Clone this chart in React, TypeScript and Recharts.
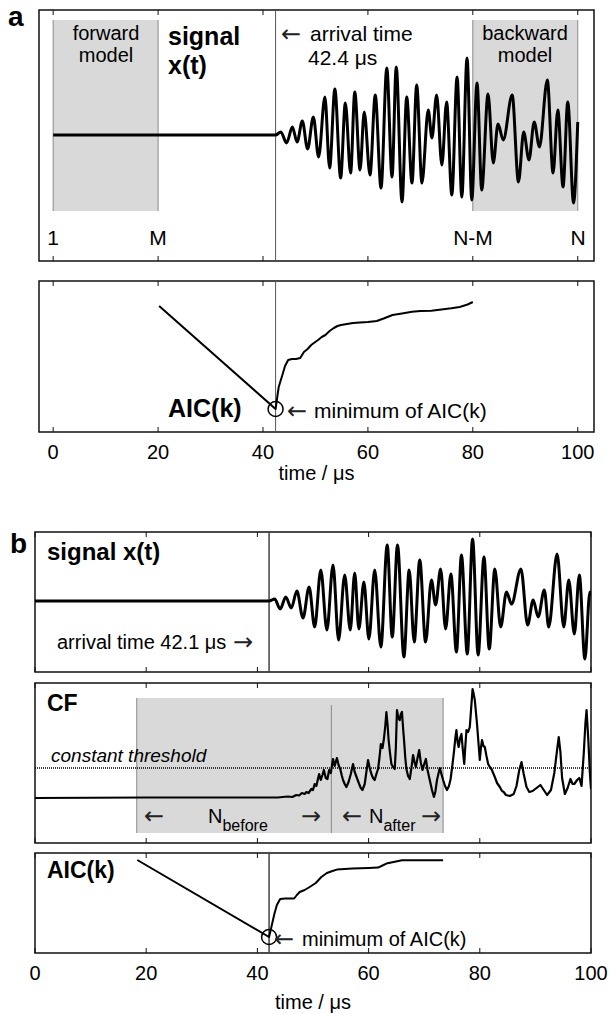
import type { ReactNode } from "react";
import { ComposedChart, Line, ReferenceArea, ReferenceDot, ReferenceLine, XAxis, YAxis } from "recharts";

// Arial look-alike with the same metrics; arrows come from DejaVu (longer glyphs)
const FONT = '"Liberation Sans", Arial, sans-serif';
const ARROW_FONT = '"DejaVu Sans", sans-serif';
const FRAME_COLOR = "#111";
const BOX_FILL = "#d9d9d9";
const BOX_EDGE = "#8a8a8a";

const TICKS = [0, 20, 40, 60, 80, 100];
const X_DOMAIN_A: [number, number] = [-2.7, 103.1];
const X_DOMAIN_B: [number, number] = [0, 100];

const ARRIVAL_A = 42.4;
const ARRIVAL_B = 42.1;

type Pt = [number, number];

// panel a, signal x(t): extrema (t in µs, amplitude)
const SIGNAL_A: Pt[] = [
  [0, 0], [42.4, 0], [43.4, 3], [44.5, -8], [45.6, 8], [46.5, -7], [47.5, 14], [48.5, -14],
  [49.6, 18], [50.6, -22], [51.8, 38], [52.7, -33], [53.7, 46], [54.8, -43], [55.7, 32],
  [56.7, -38], [57.5, 43], [58.5, -35], [59.3, 23], [60.4, -40], [61.4, 40], [62.5, -53],
  [63.6, 67], [64.6, -42], [65.4, 68], [66.5, -67], [67.4, 38], [68.4, -48], [69.3, 50],
  [70.3, -48], [71.5, 25], [72.2, -3], [73.1, 40], [74.1, -30], [75.0, 33], [76.0, -60],
  [77.0, 58], [77.9, -62], [78.9, 77], [79.8, -65], [80.8, 52], [81.7, -55], [82.9, 41],
  [83.9, -28], [84.8, 11], [85.8, -5], [87.5, 40], [88.7, -47], [89.7, 3], [90.7, -25],
  [91.7, 13], [92.7, -12], [94.2, 55], [95.3, -38], [96.2, 25], [97.2, -52], [98.1, 33],
  [99.2, -68], [100, 13],
];

// panel a, AIC(k) between M and N-M
const AIC_A: Pt[] = [
  [20.2, 126], [42.4, 23], [42.8, 38], [43.0, 45], [43.4, 52], [43.7, 57], [44.2, 66],
  [44.8, 72], [45.5, 73], [46.3, 73], [47.1, 74], [47.8, 80], [48.5, 83], [49.2, 87],
  [49.7, 89], [50.5, 92], [51.2, 95], [51.9, 97], [52.7, 101], [53.5, 104], [54.2, 106],
  [54.9, 107], [56, 108], [57.2, 109], [58.5, 109.5], [60, 110], [61.7, 111], [63, 113.5],
  [64.7, 117], [66.5, 118.5], [68.4, 120.3], [70, 121], [72.1, 121.3], [74, 122.5],
  [75.9, 123.7], [77.5, 125], [79, 127.5], [80, 130],
];
const AIC_MIN_A: Pt = [42.4, 23];

// panel b, signal x(t)
const SIGNAL_B: Pt[] = [
  [0, 0], [42.1, 0], [43.1, 2], [44.1, -8], [45.1, 4], [46.1, -7], [47.1, 10], [48.2, -17],
  [49.3, 14], [50.3, -26], [51.4, 31], [52.5, -29], [53.6, 36], [54.6, -39], [55.7, 26],
  [56.7, -29], [57.5, 28], [58.25, -28], [59.15, 19], [60.05, -38], [61.1, 31], [62.2, -46],
  [63.35, 56], [64.25, -36], [65.2, 56], [66.35, -56], [67.3, 31], [68.2, -41], [69.2, 41],
  [70.25, -41], [71.3, 21], [72.05, -4], [72.95, 32], [73.85, -28], [74.8, 27], [75.8, -51],
  [76.7, 46], [77.75, -53], [78.7, 62], [79.7, -54], [80.75, 44], [81.7, -48], [82.7, 32],
  [83.75, -26], [84.8, 9], [85.7, -3], [87.4, 32], [88.6, -24], [89.6, 1], [90.5, -16],
  [91.6, 11], [92.4, -26], [93.9, 47], [95.1, -26], [96.0, 21], [97.0, -33], [97.9, 26],
  [98.9, -58], [99.8, 9], [100, 5],
];

// panel b, characteristic function CF
const CF_B: Pt[] = [
  [0, 0], [20, 0.5], [43.7, 0.5], [44.5, 1], [45.5, 1.5], [46.3, 1], [47.0, 3], [47.5, 2.5],
  [48.0, 5], [48.5, 4], [48.8, 6], [49.2, 5], [49.7, 9], [50.0, 8], [50.3, 14], [50.6, 12],
  [51.1, 24], [51.4, 18], [51.7, 23], [51.95, 28], [52.3, 20], [52.6, 19], [52.9, 28],
  [53.2, 25], [53.6, 39], [53.9, 32], [54.3, 40], [54.6, 33], [54.95, 28], [55.2, 22],
  [55.4, 18], [55.7, 14], [56.0, 11], [56.4, 16], [56.8, 24], [57.2, 34], [57.5, 26],
  [57.9, 20], [58.3, 14], [58.6, 10], [58.9, 8], [59.3, 14], [59.6, 26], [59.9, 38],
  [60.2, 30], [60.5, 24], [60.8, 20], [61.1, 18], [61.4, 24], [61.7, 29], [61.95, 40],
  [62.2, 54], [62.5, 50], [62.75, 59], [63.0, 72], [63.2, 86], [63.4, 74], [63.6, 58],
  [63.85, 45], [64.1, 34], [64.4, 31], [64.7, 29], [64.9, 50], [65.1, 88], [65.35, 80],
  [65.6, 78], [65.8, 84], [66.0, 86], [66.2, 70], [66.4, 56], [66.6, 40], [66.8, 29],
  [67.1, 22], [67.4, 19], [67.7, 30], [68.0, 43], [68.25, 36], [68.5, 31], [68.8, 40],
  [69.1, 48], [69.4, 35], [69.7, 28], [70.0, 34], [70.3, 39], [70.6, 28], [71.0, 18],
  [71.4, 8], [71.75, 1], [72.0, 6], [72.3, 18], [72.55, 24], [72.8, 30], [73.1, 24],
  [73.4, 18], [73.75, 12], [74.1, 8], [74.45, 12], [74.75, 19], [75.05, 32], [75.35, 46],
  [75.6, 60], [75.8, 68], [76.0, 56], [76.2, 51], [76.45, 60], [76.7, 64], [76.95, 48],
  [77.2, 34], [77.4, 52], [77.6, 68], [77.9, 66], [78.2, 71], [78.45, 90], [78.7, 109],
  [78.9, 104], [79.1, 98], [79.3, 86], [79.5, 74], [79.75, 56], [80.0, 38], [80.2, 50],
  [80.4, 58], [80.65, 52], [80.9, 51], [81.2, 42], [81.5, 34], [81.8, 31], [82.1, 29],
  [82.4, 25], [82.7, 21], [83.1, 15], [83.6, 11], [84.0, 7], [84.3, 6], [84.7, 3],
  [85.4, 2], [86.1, 4], [86.6, 12], [87.1, 28], [87.5, 36], [87.9, 24], [88.4, 11],
  [88.9, 6], [89.5, 7], [90.2, 10], [90.9, 13], [91.5, 8], [92.1, 3], [92.8, 8], [93.4, 25],
  [93.9, 48], [94.2, 61], [94.5, 46], [94.8, 20], [95.3, 4], [95.8, 10], [96.3, 19],
  [96.7, 14], [97.0, 14], [97.5, 18], [97.9, 20], [98.3, 12], [98.7, 45], [99.0, 75],
  [99.2, 88], [99.5, 60], [99.8, 25], [100, 9],
];
const CF_THRESHOLD = 30;
const WINDOW_B = { start: 18.3, split: 53.3, end: 73.4 };

// panel b, AIC(k) inside the window
const AIC_B: Pt[] = [
  [18.4, 93], [42.1, 16], [42.6, 28], [43.05, 39], [43.5, 48], [44.1, 54], [45, 54.5],
  [46.6, 54.5], [47.1, 58], [47.6, 61], [48.5, 63], [49.4, 66], [50.5, 70], [51.5, 76],
  [52.5, 80], [53.5, 82], [54.3, 83.4], [57.1, 84.4], [60, 85], [61.7, 85.4], [62.5, 87.5],
  [63.2, 89.4], [64.5, 91], [66, 92.7], [70, 92.7], [73.4, 92.7],
];
const AIC_MIN_B: Pt = [42.1, 16];

const rows = (pts: Pt[]) => pts.map(([t, v]) => ({ t, v }));

interface PanelProps {
  top: number;
  left: number;
  right: number;
  marginTop: number;
  plotH: number;
  axisH: number;
  xDomain: [number, number];
  yDomain: [number, number];
  data: Pt[];
  curve: "monotone" | "linear";
  lineW: number;
  tickLabels?: boolean;
  labelOffset?: number;
  children?: ReactNode;
}

function Panel(p: PanelProps) {
  const [x0, x1] = p.xDomain;
  const [y0, y1] = p.yDomain;
  const textStyle = { fill: "#000", fontSize: 20, fontFamily: FONT };
  return (
    <div style={{ position: "absolute", left: 0, top: p.top }}>
      <ComposedChart
        width={615}
        height={p.marginTop + p.plotH + p.axisH}
        data={rows(p.data)}
        margin={{ top: p.marginTop, right: p.right, bottom: 0, left: p.left }}
      >
        <XAxis
          type="number"
          dataKey="t"
          domain={p.xDomain}
          ticks={TICKS}
          allowDataOverflow
          height={p.axisH}
          tickSize={0}
          tickLine={false}
          tickMargin={13}
          tick={p.tickLabels ? textStyle : false}
          axisLine={false}
          label={
            p.tickLabels
              ? { value: "time / μs", position: "insideBottom", offset: p.labelOffset ?? 10, ...textStyle }
              : undefined
          }
        />
        <YAxis type="number" domain={p.yDomain} allowDataOverflow hide />
        {p.children}
        {/* plot frame */}
        <ReferenceArea
          x1={x0}
          x2={x1}
          y1={y0}
          y2={y1}
          fill="none"
          stroke={FRAME_COLOR}
          strokeWidth={1.5}
          ifOverflow="visible"
        />
        {/* inward ticks on the bottom and top edges */}
        {TICKS.map((v) => (
          <ReferenceLine key={`tb${v}`} segment={[{ x: v, y: y0 }, { x: v, y: y0 + 5 }]} stroke={FRAME_COLOR} strokeWidth={1} />
        ))}
        {TICKS.map((v) => (
          <ReferenceLine key={`tt${v}`} segment={[{ x: v, y: y1 - 5 }, { x: v, y: y1 }]} stroke={FRAME_COLOR} strokeWidth={1} />
        ))}
        <Line
          type={p.curve}
          dataKey="v"
          stroke="#000"
          strokeWidth={p.lineW}
          strokeLinejoin="round"
          dot={false}
          isAnimationActive={false}
        />
      </ComposedChart>
    </div>
  );
}

function boxEdge(x: number, y0: number, y1: number, key: string) {
  return <ReferenceLine key={key} segment={[{ x, y: y0 }, { x, y: y1 }]} stroke={BOX_EDGE} strokeWidth={1} />;
}

export default function App() {
  const t = (size: number, weight: "bold" | "normal" = "normal") => ({
    fontFamily: FONT,
    fontSize: size,
    fontWeight: weight,
    fill: "#000",
  });
  const arrow = (x: number, y: number, dir: "←" | "→", size = 24) => (
    <text x={x} y={y} fontFamily={ARROW_FONT} fontSize={size} fill="#222">
      {dir}
    </text>
  );
  return (
    <div style={{ position: "absolute", left: 0, top: 0, width: 615, height: 1014, background: "#fff" }}>
      {/* a: signal */}
      <Panel top={0} left={39} right={21} marginTop={10} plotH={251} axisH={1} xDomain={X_DOMAIN_A} yDomain={[-126, 125]} data={SIGNAL_A} curve="monotone" lineW={3}>
        <ReferenceArea x1={0} x2={20} y1={-76} y2={115} fill={BOX_FILL} fillOpacity={1} stroke="none" />
        <ReferenceArea x1={80} x2={100} y1={-76} y2={115} fill={BOX_FILL} fillOpacity={1} stroke="none" />
        {boxEdge(0, -76, 115, "e0")}
        {boxEdge(20, -76, 115, "e20")}
        {boxEdge(80, -76, 115, "e80")}
        {boxEdge(100, -76, 115, "e100")}
        <ReferenceLine x={ARRIVAL_A} stroke="#555" strokeWidth={1} />
      </Panel>

      {/* a: AIC */}
      <Panel top={270} left={39} right={21} marginTop={11} plotH={151} axisH={58} xDomain={X_DOMAIN_A} yDomain={[0, 151]} data={AIC_A} curve="linear" lineW={2} tickLabels labelOffset={10}>
        <ReferenceLine x={ARRIVAL_A} stroke="#555" strokeWidth={1} />
        <ReferenceDot x={AIC_MIN_A[0]} y={AIC_MIN_A[1]} r={7.5} fill="none" stroke="#000" strokeWidth={1.5} />
      </Panel>

      {/* b: signal */}
      <Panel top={520} left={35} right={24} marginTop={12} plotH={140} axisH={2} xDomain={X_DOMAIN_B} yDomain={[-71, 69]} data={SIGNAL_B} curve="monotone" lineW={3}>
        <ReferenceLine x={ARRIVAL_B} stroke="#444" strokeWidth={1.5} />
      </Panel>

      {/* b: CF */}
      <Panel top={673} left={35} right={24} marginTop={10} plotH={160} axisH={2} xDomain={X_DOMAIN_B} yDomain={[-45, 115]} data={CF_B} curve="linear" lineW={2.2}>
        <ReferenceArea x1={WINDOW_B.start} x2={WINDOW_B.end} y1={-35} y2={100} fill={BOX_FILL} fillOpacity={1} stroke="none" />
        {boxEdge(WINDOW_B.start, -35, 100, "w0")}
        {boxEdge(WINDOW_B.end, -35, 100, "w2")}
        {boxEdge(WINDOW_B.split, -35, 93, "w1")}
        <ReferenceLine y={CF_THRESHOLD} stroke="#000" strokeWidth={1.5} strokeDasharray="1 1" />
      </Panel>

      {/* b: AIC */}
      <Panel top={843} left={35} right={24} marginTop={10} plotH={100} axisH={60} xDomain={X_DOMAIN_B} yDomain={[0, 100]} data={AIC_B} curve="linear" lineW={2} tickLabels labelOffset={4}>
        <ReferenceLine x={ARRIVAL_B} stroke="#444" strokeWidth={1.5} />
        <ReferenceDot x={AIC_MIN_B[0]} y={AIC_MIN_B[1]} r={7.5} fill="none" stroke="#000" strokeWidth={1.5} />
      </Panel>

      <svg width={615} height={1014} style={{ position: "absolute", left: 0, top: 0, pointerEvents: "none" }}>
        {/* panel a */}
        <text x={8} y={26} {...t(28, "bold")}>a</text>
        <text x={106} y={40} textAnchor="middle" {...t(20)}>forward</text>
        <text x={106} y={62} textAnchor="middle" {...t(20)}>model</text>
        <text x={525} y={40} textAnchor="middle" {...t(20)}>backward</text>
        <text x={525} y={62} textAnchor="middle" {...t(20)}>model</text>
        <text x={168} y={45} {...t(25, "bold")}>signal</text>
        <text x={168} y={74} {...t(25, "bold")}>x(t)</text>
        {arrow(281, 42, "←")}
        <text x={310} y={41} {...t(21)}>arrival time</text>
        <text x={308} y={65} {...t(21)}>42.4 μs</text>
        <text x={53} y={245} textAnchor="middle" {...t(21)}>1</text>
        <text x={158} y={245} textAnchor="middle" {...t(21)}>M</text>
        <text x={473} y={245} textAnchor="middle" {...t(21)}>N-M</text>
        <text x={578} y={245} textAnchor="middle" {...t(21)}>N</text>
        <text x={168} y={417} {...t(25, "bold")}>AIC(k)</text>
        {arrow(287, 419, "←")}
        <text x={314} y={418} {...t(21)}>minimum of AIC(k)</text>

        {/* panel b */}
        <text x={10} y={553} {...t(28, "bold")}>b</text>
        <text x={47} y={560} {...t(24, "bold")}>signal x(t)</text>
        <text x={57} y={649} {...t(20)}>arrival time 42.1 μs</text>
        {arrow(233, 650, "→")}
        <text x={47} y={711} {...t(23, "bold")}>CF</text>
        <text x={51} y={762} fontStyle="italic" {...t(19)}>constant threshold</text>
        {arrow(144, 824, "←")}
        <text x={208} y={823} {...t(20)}>
          N<tspan dy={8} fontSize={16}>before</tspan>
        </text>
        {arrow(301, 824, "→")}
        {arrow(342, 824, "←")}
        <text x={369} y={823} {...t(20)}>
          N<tspan dy={8} fontSize={16}>after</tspan>
        </text>
        {arrow(421, 824, "→")}
        <text x={47} y={878} {...t(23, "bold")}>AIC(k)</text>
        {arrow(274, 947, "←")}
        <text x={302} y={946} {...t(20)}>minimum of AIC(k)</text>
      </svg>
    </div>
  );
}
